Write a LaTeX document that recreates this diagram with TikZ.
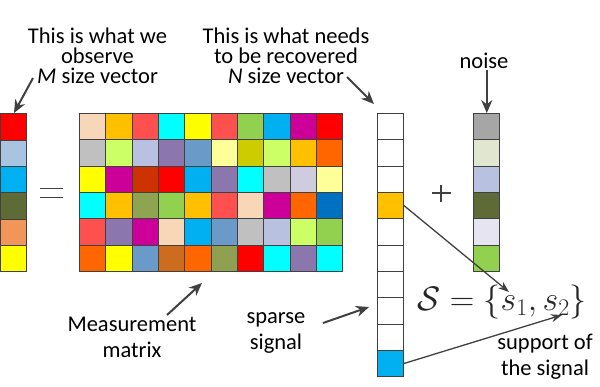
\RequirePackage{fix-cm}
\documentclass[tikz,border=0pt]{standalone}
\usepackage{fontspec}
\setmainfont{Carlito}
\usetikzlibrary{arrows.meta}
\definecolor{edge}{HTML}{404040}
\definecolor{peach}{HTML}{F8D6B8}
\definecolor{amber}{HTML}{FFC000}
\definecolor{coral}{HTML}{FF5050}
\definecolor{aqua}{HTML}{00FFFF}
\definecolor{yel}{HTML}{FFFF00}
\definecolor{lgreen}{HTML}{92D050}
\definecolor{sky}{HTML}{00B0F0}
\definecolor{mag}{HTML}{CC0099}
\definecolor{red1}{HTML}{FF0000}
\definecolor{gray1}{HTML}{C0C0C0}
\definecolor{lime}{HTML}{CCFF66}
\definecolor{lav}{HTML}{B8C2E0}
\definecolor{purp}{HTML}{8B77AE}
\definecolor{steel}{HTML}{6A9AC8}
\definecolor{pyel}{HTML}{FFFF99}
\definecolor{mustard}{HTML}{CCCC00}
\definecolor{orng}{HTML}{FF6600}
\definecolor{rust}{HTML}{CC3300}
\definecolor{plav}{HTML}{D0CCE0}
\definecolor{olive}{HTML}{8FA450}
\definecolor{blue1}{HTML}{0070C0}
\definecolor{brown1}{HTML}{CC6C1E}
\definecolor{olive2}{HTML}{8FA050}
\definecolor{lblue}{HTML}{A9C4E0}
\definecolor{dolive}{HTML}{5E6B36}
\definecolor{lorange}{HTML}{F0965A}
\definecolor{ngray}{HTML}{A6A6A6}
\definecolor{ngreen}{HTML}{E0E6CF}
\definecolor{nlav}{HTML}{E6E4F0}
\begin{document}
\begin{tikzpicture}[x=1pt,y=-1pt,
  cell/.style={draw=edge,line width=1pt,minimum width=26.3pt,minimum height=26.3pt,inner sep=0pt,fill=#1},
  lbl/.style={align=center,font=\fontsize{22.5}{20}\selectfont,inner sep=0pt},
  lblwide/.style={align=center,font=\fontsize{22.5}{26}\selectfont,inner sep=0pt},
  arr/.style={draw=edge,line width=2pt,-{Stealth[length=13pt,width=11pt]}},
  thinarr/.style={draw=edge,line width=1.3pt,-{Stealth[length=11pt,width=8pt]}},
  sym/.style={draw=edge,line width=1.3pt}]
\useasboundingbox (0,0) rectangle (600,386);
% observed vector
\foreach \c [count=\i] in {red1,lblue,sky,dolive,lorange,yel}
  \node[cell=\c] (y\i) at (13.6,{113.8+26.3*(\i-0.5)}) {};
% measurement matrix
\foreach \row [count=\i] in {
  {peach,amber,coral,aqua,yel,coral,lgreen,sky,mag,red1},
  {gray1,lime,lav,purp,steel,pyel,mustard,lime,amber,orng},
  {yel,mag,rust,red1,sky,purp,aqua,gray1,plav,pyel},
  {aqua,amber,olive,lgreen,amber,coral,peach,mag,orng,blue1},
  {coral,purp,mag,peach,sky,steel,gray1,lav,lime,lgreen},
  {orng,yel,steel,brown1,orng,olive2,red1,aqua,purp,aqua}}
  \foreach \c [count=\j] in \row
    \node[cell=\c] (a\i\j) at ({79.6+26.3*(\j-0.5)},{113.6+26.3*(\i-0.5)}) {};
% sparse vector
\foreach \c [count=\i] in {white,white,white,amber,white,white,white,white,white,sky}
  \node[cell=\c] (x\i) at (390.4,{113.6+26.3*(\i-0.5)}) {};
% noise vector
\foreach \c [count=\i] in {ngray,ngreen,lav,dolive,nlav,lgreen}
  \node[cell=\c] (n\i) at (486.8,{113.6+26.3*(\i-0.5)}) {};
% equals and plus
\draw[sym] (40,188.5) -- (63,188.5);
\draw[sym] (40,197.5) -- (63,197.5);
\draw[sym] (431.5,193) -- (450.5,193);
\draw[sym] (441,184.5) -- (441,202);
% labels
\node[lbl] (tobs) at (97.5,56) {This is what we\\observe\\\textit{M} size vector};
\node[lbl] (trec) at (286,56) {This is what needs\\to be recovered\\\textit{N} size vector};
\node[lbl] (tnoise) at (484,61) {noise};
\node[lblwide] (tmeas) at (132,337) {Measurement\\matrix};
\node[lblwide] (tsparse) at (276,333) {sparse\\signal};
\node[lblwide] (tsupp) at (545,357) {support of\\the signal};
\node[inner sep=0pt,text=black!85] (supp) at (502,302) {\fontsize{34}{38}\selectfont$\mathcal{S}=\{s_1,s_2\}$};
% arrows
\coordinate (o1) at (33,78);
\coordinate (o2) at (14,113);
\coordinate (r1) at (347,77);
\coordinate (r2) at (374,104);
\coordinate (nz) at (486.8,70);
\coordinate (m1) at (167,315);
\coordinate (m2) at (202,283);
\coordinate (p1) at (323,323);
\coordinate (p2) at (369,307);
\coordinate (s1t) at (509,292);
\coordinate (s2t) at (562,315);
\draw[arr] (o1) -- (o2);
\draw[arr] (r1) -- (r2);
\draw[arr] (nz) -- (n1.north);
\draw[arr] (m1) -- (m2);
\draw[arr] (p1) -- (p2);
\draw[thinarr] (x4.east) -- (s1t);
\draw[thinarr] (x10.east) -- (s2t);
\end{tikzpicture}
\end{document}
